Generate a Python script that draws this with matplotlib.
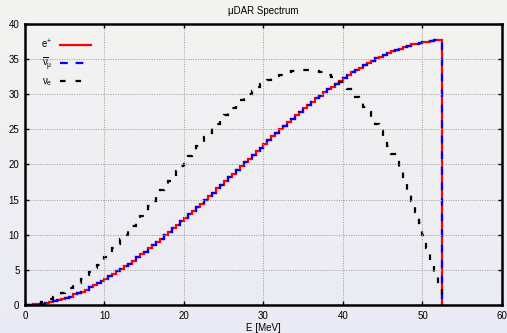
import numpy as np
import matplotlib
matplotlib.use('Agg')
import matplotlib.pyplot as plt

plt.rcParams['font.family'] = ['Liberation Sans', 'DejaVu Sans']
plt.rcParams['mathtext.default'] = 'regular'

# bin edges [MeV] and bin contents
bin_edges = np.arange(0, 52.6, 0.5)

positron = [0.0, 0.0, 0.1, 0.1, 0.2, 0.3, 0.4, 0.5, 0.7, 0.9,
            1.0, 1.2, 1.5, 1.7, 1.9, 2.2, 2.5, 2.8, 3.1, 3.4,
            3.7, 4.1, 4.4, 4.8, 5.1, 5.5, 5.9, 6.3, 6.8, 7.2,
            7.6, 8.1, 8.5, 9.0, 9.4, 9.9, 10.4, 10.9, 11.4, 11.9,
            12.4, 12.9, 13.4, 13.9, 14.4, 15.0, 15.5, 16.0, 16.6, 17.1,
            17.6, 18.2, 18.7, 19.2, 19.8, 20.3, 20.8, 21.4, 21.9, 22.4,
            22.9, 23.5, 24.0, 24.5, 25.0, 25.5, 26.0, 26.5, 27.0, 27.5,
            28.0, 28.4, 28.9, 29.4, 29.8, 30.3, 30.7, 31.1, 31.5, 31.9,
            32.3, 32.7, 33.1, 33.4, 33.8, 34.1, 34.4, 34.8, 35.1, 35.3,
            35.6, 35.9, 36.1, 36.3, 36.5, 36.7, 36.9, 37.1, 37.2, 37.3,
            37.4, 37.5, 37.6, 37.7, 37.7]

numu_bar = list(positron)

nu_e = [0.0, 0.0, 0.1, 0.2, 0.4, 0.6, 0.8, 1.1, 1.3, 1.7,
        2.0, 2.4, 2.8, 3.2, 3.7, 4.2, 4.7, 5.2, 5.7, 6.3,
        6.9, 7.5, 8.1, 8.7, 9.4, 10.0, 10.7, 11.3, 12.0, 12.7,
        13.4, 14.1, 14.8, 15.5, 16.3, 17.0, 17.7, 18.4, 19.1, 19.8,
        20.5, 21.2, 21.9, 22.6, 23.2, 23.9, 24.5, 25.2, 25.8, 26.4,
        27.0, 27.6, 28.1, 28.6, 29.2, 29.6, 30.1, 30.5, 31.0, 31.4,
        31.7, 32.0, 32.3, 32.6, 32.8, 33.0, 33.2, 33.3, 33.4, 33.5,
        33.5, 33.5, 33.4, 33.3, 33.2, 33.0, 32.7, 32.4, 32.1, 31.7,
        31.2, 30.7, 30.2, 29.6, 28.9, 28.2, 27.5, 26.6, 25.7, 24.8,
        23.8, 22.7, 21.5, 20.3, 19.0, 17.7, 16.3, 14.8, 13.2, 11.6,
        9.9, 8.1, 6.3, 4.3, 2.3]

x_ticks = [0, 10, 20, 30, 40, 50, 60]
y_ticks = [0, 5, 10, 15, 20, 25, 30, 35, 40]

fig = plt.figure(figsize=(5.07, 3.33), dpi=100)

# soft vertical gradient behind everything
bg = fig.add_axes([0, 0, 1, 1], zorder=-10)
top_col = np.array([0.955, 0.955, 0.945])
bot_col = np.array([0.92, 0.92, 0.96])
t = np.linspace(0, 1, 256)[:, None, None]
grad = top_col * (1 - t) + bot_col * t
bg.imshow(np.repeat(grad, 2, axis=1), aspect='auto', extent=[0, 1, 0, 1])
bg.axis('off')

ax = fig.add_axes([0.0493, 0.0841, 0.9408, 0.8439])
ax.patch.set_alpha(0)

ax.stairs(positron, bin_edges, color='#ff0000', linewidth=1.6, label='e$^{+}$')
ax.stairs(numu_bar, bin_edges, color='#0000ff', linewidth=1.6,
          linestyle=(0, (3.5, 3.5)), label=r'$\overline{\nu}_{\mu}$')
ax.stairs(nu_e, bin_edges, color='black', linewidth=1.6,
          linestyle=(0, (2.5, 4.5)), label=r'$\nu_{e}$')

ax.set_xlim(0, 60)
ax.set_ylim(0, 40)
ax.set_xticks(x_ticks)
ax.set_yticks(y_ticks)
ax.tick_params(direction='in', length=3, width=1, labelsize=7,
               top=True, right=True, pad=4)
ax.grid(True, color='#999999', linestyle=(0, (1, 1.5)), linewidth=0.7)
for s in ax.spines.values():
    s.set_linewidth(1.8)

ax.set_xlabel('E [MeV]', fontsize=7, labelpad=2)
ax.set_title('\u03bcDAR Spectrum', fontsize=7, pad=7)

leg = ax.legend(loc='upper left', bbox_to_anchor=(0.025, 0.965),
                frameon=False, markerfirst=False, fontsize=7,
                handlelength=3.2, handletextpad=0.8, labelspacing=0.45,
                borderaxespad=0)
for txt in leg.get_texts():
    txt.set_ha('right')

fig.savefig('out.png', dpi=100)
